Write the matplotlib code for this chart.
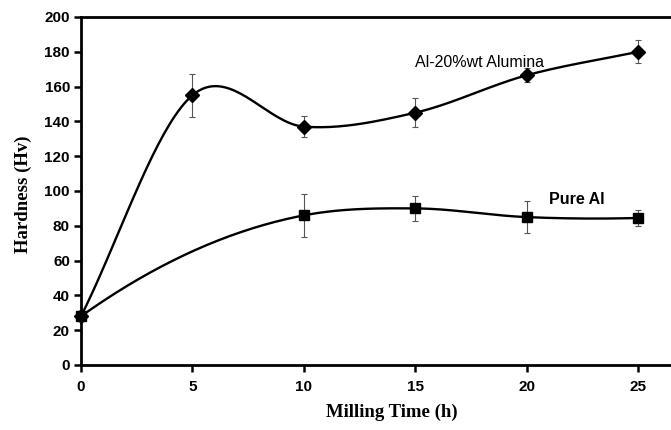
#!/usr/bin/env python3
"""Hardness vs milling time for pure Al and Al-20%wt alumina."""

import matplotlib

matplotlib.use("Agg")
import matplotlib.pyplot as plt
import numpy as np

# Milling time (h) and Vickers hardness with error bars
alumina_time = [0, 5, 10, 15, 20, 25]
alumina_hv = [28, 155, 137, 145, 166.5, 180]
alumina_err = [0, 12.5, 6, 8.5, 4, 6.5]

pure_time = [0, 10, 15, 20, 25]
pure_hv = [28, 86, 90, 85, 84.5]
pure_err = [0, 12.3, 7.2, 9, 4.7]

x_ticks = [0, 5, 10, 15, 20, 25]
y_ticks = [0, 20, 40, 60, 80, 100, 120, 140, 160, 180, 200]


def smooth_curve(x, y, edge_order=2, samples=40):
    """Cubic Hermite curve through the points, tangents from np.gradient."""
    x = np.asarray(x, dtype=float)
    y = np.asarray(y, dtype=float)
    slopes = np.gradient(y, x, edge_order=edge_order)
    t = np.linspace(0.0, 1.0, samples)
    h00 = 2 * t**3 - 3 * t**2 + 1
    h10 = t**3 - 2 * t**2 + t
    h01 = -2 * t**3 + 3 * t**2
    h11 = t**3 - t**2
    xs, ys = [], []
    for i in range(len(x) - 1):
        h = x[i + 1] - x[i]
        xs.append(x[i] + h * t)
        ys.append(
            h00 * y[i] + h10 * h * slopes[i] + h01 * y[i + 1] + h11 * h * slopes[i + 1]
        )
    return np.concatenate(xs), np.concatenate(ys)


fig = plt.figure(figsize=(6.71, 4.30), dpi=100)
ax = fig.add_axes([81 / 671, 1 - 365 / 430, 590 / 671, 348 / 430])

tick_font = {"family": "Liberation Sans", "weight": "bold", "size": 11}
label_font = {"family": "Liberation Serif", "weight": "bold", "size": 13.5}

for times, values, errs, marker, ms, order in [
    (alumina_time, alumina_hv, alumina_err, "D", 7, 1),
    (pure_time, pure_hv, pure_err, "s", 7.5, 2),
]:
    cx, cy = smooth_curve(times, values, edge_order=order)
    ax.plot(cx, cy, color="black", lw=1.7, zorder=2, solid_capstyle="round")
    ax.errorbar(
        times, values, yerr=errs, fmt="none", ecolor="#555555",
        elinewidth=0.8, capsize=2.2, capthick=0.8, zorder=3,
    )
    ax.plot(times, values, ls="none", marker=marker, ms=ms, color="black",
            zorder=4, clip_on=False)

ax.text(17.9, 174, "Al-20%wt Alumina", ha="center", va="center",
        family="Liberation Sans", size=11.5)
ax.text(22.26, 95.4, "Pure Al", ha="center", va="center",
        family="Liberation Sans", weight="bold", size=11.5)

ax.set_xlim(0, 26.48)
ax.set_ylim(0, 200)
ax.set_xticks(x_ticks)
ax.set_yticks(y_ticks)
ax.set_xticklabels([str(v) for v in x_ticks], fontdict=tick_font)
ax.set_yticklabels([str(v) for v in y_ticks], fontdict=tick_font)
ax.tick_params(axis="both", direction="out", length=5, width=1.8, color="black")
ax.tick_params(axis="x", pad=6)
ax.tick_params(axis="y", pad=3)

for side in ("left", "bottom", "top"):
    ax.spines[side].set_linewidth(2.0)
ax.spines["right"].set_visible(False)

fig.text(392 / 671, 1 - 412 / 430, "Milling Time (h)", ha="center", va="center",
         **label_font)
fig.text(23 / 671, 1 - 194 / 430, "Hardness (Hv)", ha="center", va="center",
         rotation=90, **label_font)

fig.savefig("out.png", dpi=100)
